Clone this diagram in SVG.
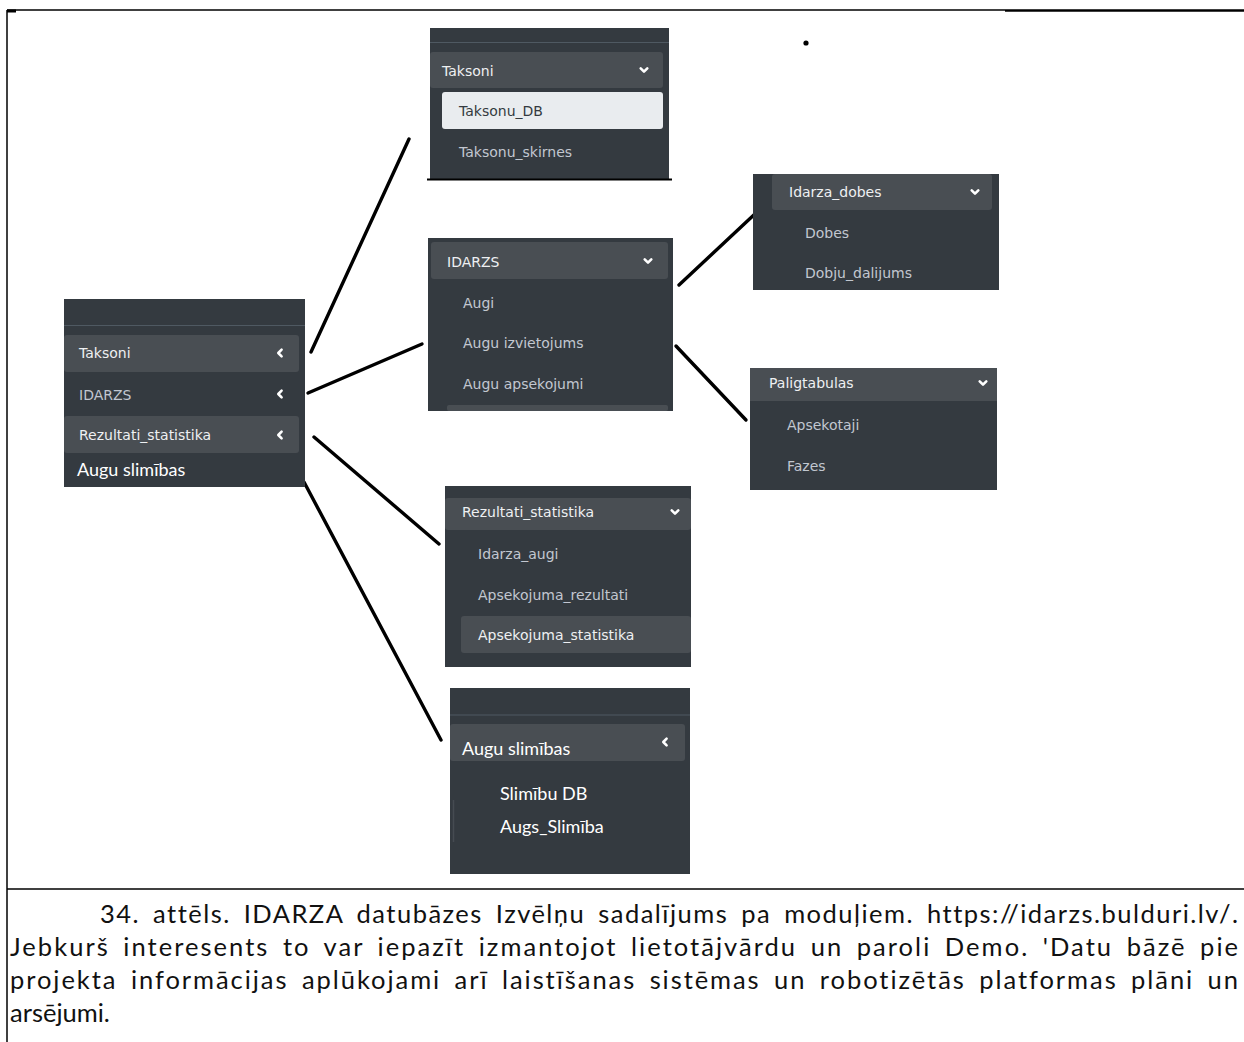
<svg xmlns="http://www.w3.org/2000/svg" xmlns:xlink="http://www.w3.org/1999/xlink" width="1244" height="1042" viewBox="0 0 1244 1042">
  <defs>
    <style>
      .panel { fill: #343a40; }
      .sep { stroke: #4f5962; stroke-width: 1.2; }
      .hdr { fill: #494e53; }
      .act { fill: #e9ecef; }
      .ui { font-family: "DejaVu Sans", Verdana, sans-serif; font-size: 14px; }
      .lbl-h { fill: #eef0f2; }
      .lbl-i { fill: #c2c7d0; }
      .lbl-a { fill: #343a40; }
      .cal { font-family: Lato, "Open Sans", sans-serif; font-size: 18px; fill: #ffffff; font-variant-ligatures: none; }
      .cap { font-family: Lato, "Open Sans", sans-serif; font-size: 25.5px; fill: #111111; font-variant-ligatures: none; }
      .just { word-spacing: 5px; }
      .conn { stroke: #000000; stroke-width: 3.4; stroke-linecap: round; fill: none; }
      .chev { stroke: #ffffff; stroke-width: 2.6; fill: none; stroke-linecap: round; stroke-linejoin: round; }
      .frame { stroke: #000000; fill: none; }
    </style>
    <path id="down" class="chev" d="M-3.3,-1.6 L0,1.7 L3.3,-1.6"/>
    <path id="left" class="chev" d="M1.6,-3.3 L-1.7,0 L1.6,3.3"/>
  </defs>

  <rect width="1244" height="1042" fill="#ffffff"/>

  <!-- page frame and caption separator -->
  <g id="frame">
    <line class="frame" x1="7" y1="10" x2="1005" y2="10" stroke-width="1.5"/>
    <line class="frame" x1="1005" y1="10.5" x2="1244" y2="10.5" stroke-width="2.5"/>
    <line class="frame" x1="7" y1="11" x2="16" y2="11" stroke-width="3"/>
    <line class="frame" x1="7" y1="10" x2="7" y2="1042" stroke-width="1.5"/>
    <line class="frame" x1="7" y1="889" x2="1244" y2="889" stroke-width="1.5"/>
  </g>

  <!-- connectors -->
  <g id="connectors">
    <line class="conn" x1="311" y1="352" x2="409" y2="139"/>
    <line class="conn" x1="308" y1="393" x2="422" y2="344"/>
    <line class="conn" x1="314" y1="437" x2="439" y2="544"/>
    <line class="conn" x1="304" y1="482" x2="441" y2="740"/>
    <line class="conn" x1="679" y1="285" x2="757" y2="212"/>
    <line class="conn" x1="676" y1="346" x2="746" y2="420"/>
    <circle cx="806" cy="43" r="2.6" fill="#000000"/>
  </g>

  <!-- main sidebar menu -->
  <g id="menu-main">
    <rect class="panel" x="64" y="299" width="241" height="188"/>
    <line class="sep" x1="64" y1="325.5" x2="305" y2="325.5"/>
    <rect class="hdr" x="64" y="335" width="235" height="37" rx="3"/>
    <rect class="hdr" x="64" y="416" width="235" height="37" rx="3"/>
    <text class="ui lbl-h" x="79" y="358">Taksoni</text>
    <text class="ui lbl-i" x="79" y="400">IDARZS</text>
    <text class="ui lbl-h" x="79" y="440">Rezultati_statistika</text>
    <text class="cal" x="77" y="476">Augu slimības</text>
    <use xlink:href="#left" x="280" y="353"/>
    <use xlink:href="#left" x="280" y="394"/>
    <use xlink:href="#left" x="280" y="435"/>
  </g>

  <!-- Taksoni submenu -->
  <g id="menu-taksoni">
    <rect class="panel" x="430" y="28" width="239" height="151"/>
    <line class="sep" x1="430" y1="42.5" x2="669" y2="42.5"/>
    <rect class="hdr" x="430" y="52" width="233" height="36" rx="3"/>
    <rect class="act" x="442" y="92" width="221" height="37" rx="3"/>
    <line x1="427" y1="179.5" x2="672" y2="179.5" stroke="#000000" stroke-width="2"/>
    <text class="ui lbl-h" x="442" y="76">Taksoni</text>
    <text class="ui lbl-a" x="459" y="116">Taksonu_DB</text>
    <text class="ui lbl-i" x="459" y="157">Taksonu_skirnes</text>
    <use xlink:href="#down" x="644" y="70"/>
  </g>

  <!-- IDARZS submenu -->
  <g id="menu-idarzs">
    <rect class="panel" x="428" y="238" width="245" height="173"/>
    <rect class="hdr" x="431" y="242" width="237" height="37" rx="3"/>
    <rect class="hdr" x="447" y="405" width="221" height="6" rx="2"/>
    <text class="ui lbl-h" x="447" y="267">IDARZS</text>
    <text class="ui lbl-i" x="463" y="308">Augi</text>
    <text class="ui lbl-i" x="463" y="348">Augu izvietojums</text>
    <text class="ui lbl-i" x="463" y="389">Augu apsekojumi</text>
    <use xlink:href="#down" x="648" y="261"/>
  </g>

  <!-- Idarza_dobes submenu -->
  <g id="menu-dobes">
    <rect class="panel" x="753" y="174" width="246" height="116"/>
    <rect class="hdr" x="772" y="174" width="220" height="36" rx="3"/>
    <text class="ui lbl-h" x="789" y="197">Idarza_dobes</text>
    <text class="ui lbl-i" x="805" y="238">Dobes</text>
    <text class="ui lbl-i" x="805" y="278">Dobju_dalijums</text>
    <use xlink:href="#down" x="975" y="192"/>
  </g>

  <!-- Paligtabulas submenu -->
  <g id="menu-palig">
    <rect class="panel" x="750" y="368" width="247" height="122"/>
    <rect class="hdr" x="750" y="368" width="247" height="33"/>
    <text class="ui lbl-h" x="769" y="388">Paligtabulas</text>
    <text class="ui lbl-i" x="787" y="430">Apsekotaji</text>
    <text class="ui lbl-i" x="787" y="471">Fazes</text>
    <use xlink:href="#down" x="983" y="383"/>
  </g>

  <!-- Rezultati_statistika submenu -->
  <g id="menu-rezultati">
    <rect class="panel" x="445" y="486" width="246" height="181"/>
    <rect class="hdr" x="445" y="498" width="246" height="32" rx="3"/>
    <rect class="hdr" x="461" y="616" width="230" height="37" rx="3"/>
    <text class="ui lbl-h" x="462" y="517">Rezultati_statistika</text>
    <text class="ui lbl-i" x="478" y="559">Idarza_augi</text>
    <text class="ui lbl-i" x="478" y="600">Apsekojuma_rezultati</text>
    <text class="ui lbl-h" x="478" y="640">Apsekojuma_statistika</text>
    <use xlink:href="#down" x="675" y="512"/>
  </g>

  <!-- Augu slimibas submenu -->
  <g id="menu-slimibas">
    <rect class="panel" x="450" y="688" width="240" height="186"/>
    <line class="sep" x1="450" y1="715" x2="690" y2="715"/>
    <rect class="hdr" x="450" y="724" width="235" height="37" rx="3"/>
    <line x1="453.5" y1="800" x2="453.5" y2="842" stroke="#454b51" stroke-width="1.5"/>
    <text class="cal" x="462" y="755">Augu slimības</text>
    <text class="cal" x="500" y="800">Slimību DB</text>
    <text class="cal" x="500" y="833">Augs_Slimība</text>
    <use xlink:href="#left" x="665" y="742"/>
  </g>

  <!-- caption -->
  <g id="caption">
    <text class="cap just" x="100" y="923" textLength="1138" lengthAdjust="spacing">34. attēls. IDARZA datubāzes Izvēlņu sadalījums pa moduļiem. https://idarzs.bulduri.lv/.</text>
    <text class="cap just" x="10" y="956" textLength="1228" lengthAdjust="spacing">Jebkurš interesents to var iepazīt izmantojot lietotājvārdu un paroli Demo. 'Datu bāzē pie</text>
    <text class="cap just" x="10" y="989" textLength="1228" lengthAdjust="spacing">projekta informācijas aplūkojami arī laistīšanas sistēmas un robotizētās platformas plāni un</text>
    <text class="cap" x="10" y="1022">arsējumi.</text>
  </g>
</svg>
